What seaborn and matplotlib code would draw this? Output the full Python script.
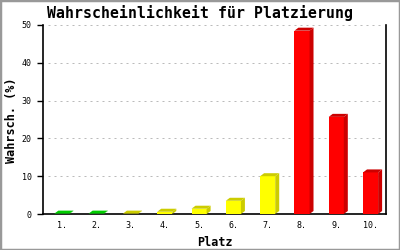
import matplotlib
matplotlib.use("Agg")
import matplotlib.pyplot as plt
import seaborn as sns
import pandas as pd
from matplotlib.patches import Polygon, Rectangle

places = ["1.", "2.", "3.", "4.", "5.", "6.", "7.", "8.", "9.", "10."]
probs = [0.1, 0.1, 0.1, 0.6, 1.4, 3.5, 10.0, 48.5, 25.7, 11.0]
groups = ["g", "g", "y", "y", "y", "y", "y", "r", "r", "r"]
yticks = [0, 10, 20, 30, 40, 50]

front = {"g": "#00ff00", "y": "#ffff00", "r": "#ff0000"}
shade = {"g": "#00cc00", "y": "#cccc00", "r": "#cc0000"}

df = pd.DataFrame({"Platz": places, "val": probs, "grp": groups})

sns.set_theme(style="white")
plt.rcParams["font.family"] = ["DejaVu Sans Mono", "DejaVu Sans"]

fig = plt.figure(figsize=(4, 2.5), dpi=100)
ax = fig.add_axes([43 / 400, 36 / 250, 343 / 400, 189 / 250])

sns.barplot(data=df, x="Platz", y="val", hue="Platz",
            palette=[front[g] for g in groups], width=0.44,
            legend=False, ax=ax, saturation=1, zorder=3)
ax.set_xlim(-0.55, 9.45)
ax.set_ylim(0, 50)

# gridlines
ax.hlines(yticks[1:], 0.015, 0.99, transform=ax.get_yaxis_transform(),
          colors="#bbbbbb", lw=0.72, linestyles=(0, (2, 4)), zorder=1)

# 3D faces
dx, dy = 4, 3
inv = ax.transData.inverted()
for p, g in zip(ax.patches, groups):
    p.set_edgecolor("none")
    x0, y0 = p.get_x(), p.get_y()
    x1, y1 = x0 + p.get_width(), y0 + p.get_height()
    (X0, Y0), (X1, Y1) = ax.transData.transform([(x0, y0), (x1, y1)])
    top = [(X0, Y1), (X1, Y1), (X1 + dx, Y1 + dy), (X0 + dx, Y1 + dy)]
    side = [(X1, Y0), (X1, Y1), (X1 + dx, Y1 + dy), (X1 + dx, Y0 + dy)]
    for poly in (top, side):
        ax.add_patch(Polygon(inv.transform(poly), closed=True,
                             facecolor=shade[g], edgecolor="none", zorder=4))

for s in ["left", "right", "bottom"]:
    ax.spines[s].set_color("black")
    ax.spines[s].set_linewidth(1.2)
ax.spines["top"].set_visible(False)

ax.set_yticks(yticks)
ax.tick_params(axis="y", length=4, width=1, color="black", pad=4,
               labelsize=6, left=True)
ax.tick_params(axis="x", length=0, pad=5, labelsize=6)
for lab in ax.get_xticklabels() + ax.get_yticklabels():
    lab.set_color("black")

ax.set_xlabel("Platz", fontsize=8.5, fontweight="bold", color="black", labelpad=4)
ax.set_ylabel("Wahrsch. (%)", fontsize=8.5, fontweight="bold", color="black")
ax.yaxis.set_label_coords((18 - 43) / 343, (250 - 120.5 - 36) / 189)
fig.text(0.5, 1 - 13 / 250, "Wahrscheinlichkeit für Platzierung",
         ha="center", va="center", fontsize=10.7, fontweight="bold", color="black")

fig.patches.append(Rectangle((0, 0), 1, 1, transform=fig.transFigure,
                             fill=False, edgecolor="#999999", lw=2.5))

fig.savefig("out.png", dpi=100)
